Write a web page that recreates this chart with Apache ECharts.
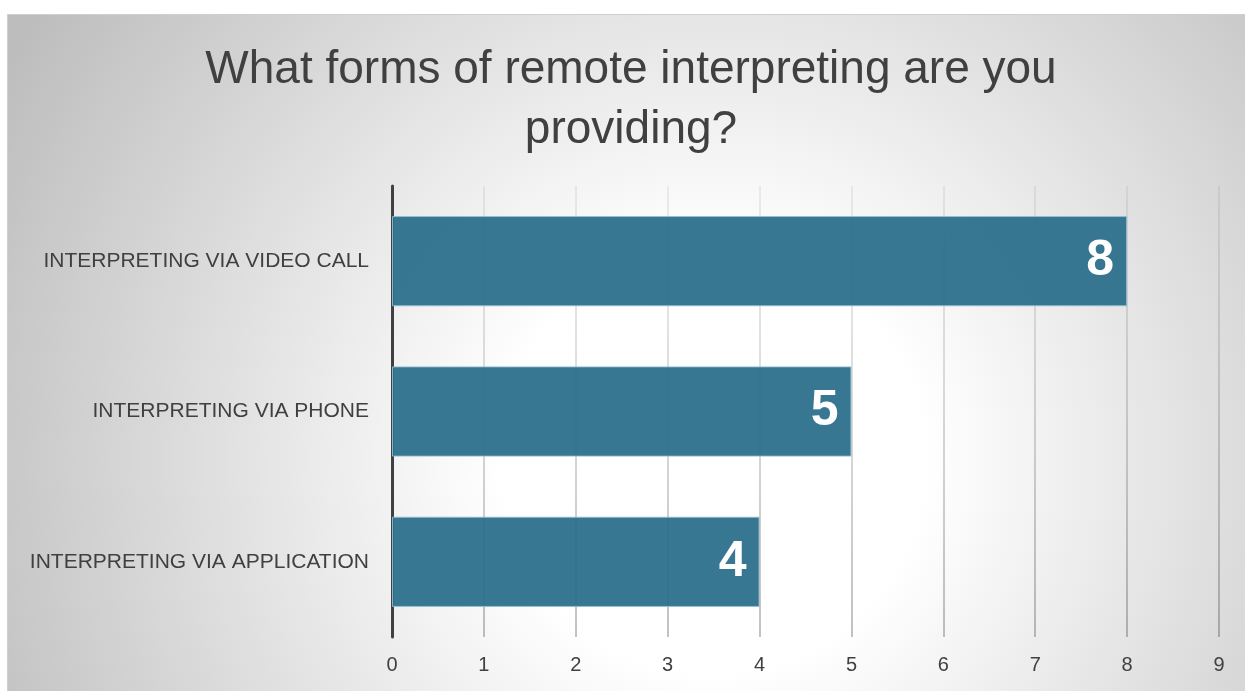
<!DOCTYPE html>
<html>
<head>
<meta charset="utf-8">
<script src="https://cdn.jsdelivr.net/npm/echarts@6/dist/echarts.min.js"></script>
<style>
  html, body { margin: 0; padding: 0; background: #ffffff; overflow: hidden; }
  #chart {
    position: absolute; left: 7px; top: 14px;
    width: 1238px; height: 677px;
    box-sizing: border-box;
    border-top: 1px solid #cfcfcf; border-left: 1px solid #cfcfcf;
  }
</style>
</head>
<body>
<div id="chart"></div>
<script>
// Survey answers: forms of remote interpreting provided
const titleText = 'What forms of remote interpreting are you\nproviding?';
const categories = [
  'INTERPRETING VIA VIDEO CALL',
  'INTERPRETING VIA PHONE',
  'INTERPRETING VIA APPLICATION'
];
const counts = [8, 5, 4];
const axisMin = 0;
const axisMax = 9;
const axisStep = 1;

const chart = echarts.init(document.getElementById('chart'), null, { renderer: 'canvas' });

const option = {
  backgroundColor: new echarts.graphic.RadialGradient(0.57, 0.66, 1.2, [
    { offset: 0, color: '#ffffff' },
    { offset: 0.26, color: '#ffffff' },
    { offset: 1, color: '#bdbdbd' }
  ]),
  title: {
    text: titleText,
    left: 618,
    top: 20,
    textAlign: 'center',
    textStyle: {
      fontFamily: 'Liberation Sans',
      fontWeight: 'normal',
      fontSize: 46,
      lineHeight: 60,
      color: '#404040'
    }
  },
  grid: { left: 384, right: 26, top: 171, bottom: 54, containLabel: false },
  xAxis: {
    type: 'value',
    min: axisMin,
    max: axisMax,
    interval: axisStep,
    axisLine: { show: false },
    axisTick: { show: false },
    axisLabel: {
      margin: 18,
      fontFamily: 'Liberation Sans',
      fontSize: 20,
      color: '#404040'
    },
    splitLine: {
      show: true,
      lineStyle: {
        width: 1.5,
        color: new echarts.graphic.LinearGradient(0, 0, 0, 1, [
          { offset: 0, color: 'rgba(0,0,0,0.08)' },
          { offset: 1, color: 'rgba(0,0,0,0.32)' }
        ])
      }
    }
  },
  yAxis: {
    type: 'category',
    data: categories,
    inverse: true,
    axisLine: { show: true, lineStyle: { color: '#404040', width: 3 } },
    axisTick: { show: false },
    axisLabel: {
      margin: 23,
      fontFamily: 'Liberation Sans',
      fontSize: 21,
      color: '#404040'
    }
  },
  series: [{
    type: 'bar',
    data: counts,
    barCategoryGap: '40%',
    itemStyle: {
      color: 'rgba(42,110,139,0.94)',
      borderColor: 'rgba(150,190,208,0.9)',
      borderWidth: 1
    },
    label: {
      show: true,
      position: 'insideRight',
      distance: 13,
      fontFamily: 'Liberation Sans',
      fontWeight: 'bold',
      fontSize: 50,
      color: '#ffffff'
    },
    z: 3
  }]
};

chart.setOption(option);
</script>
</body>
</html>
